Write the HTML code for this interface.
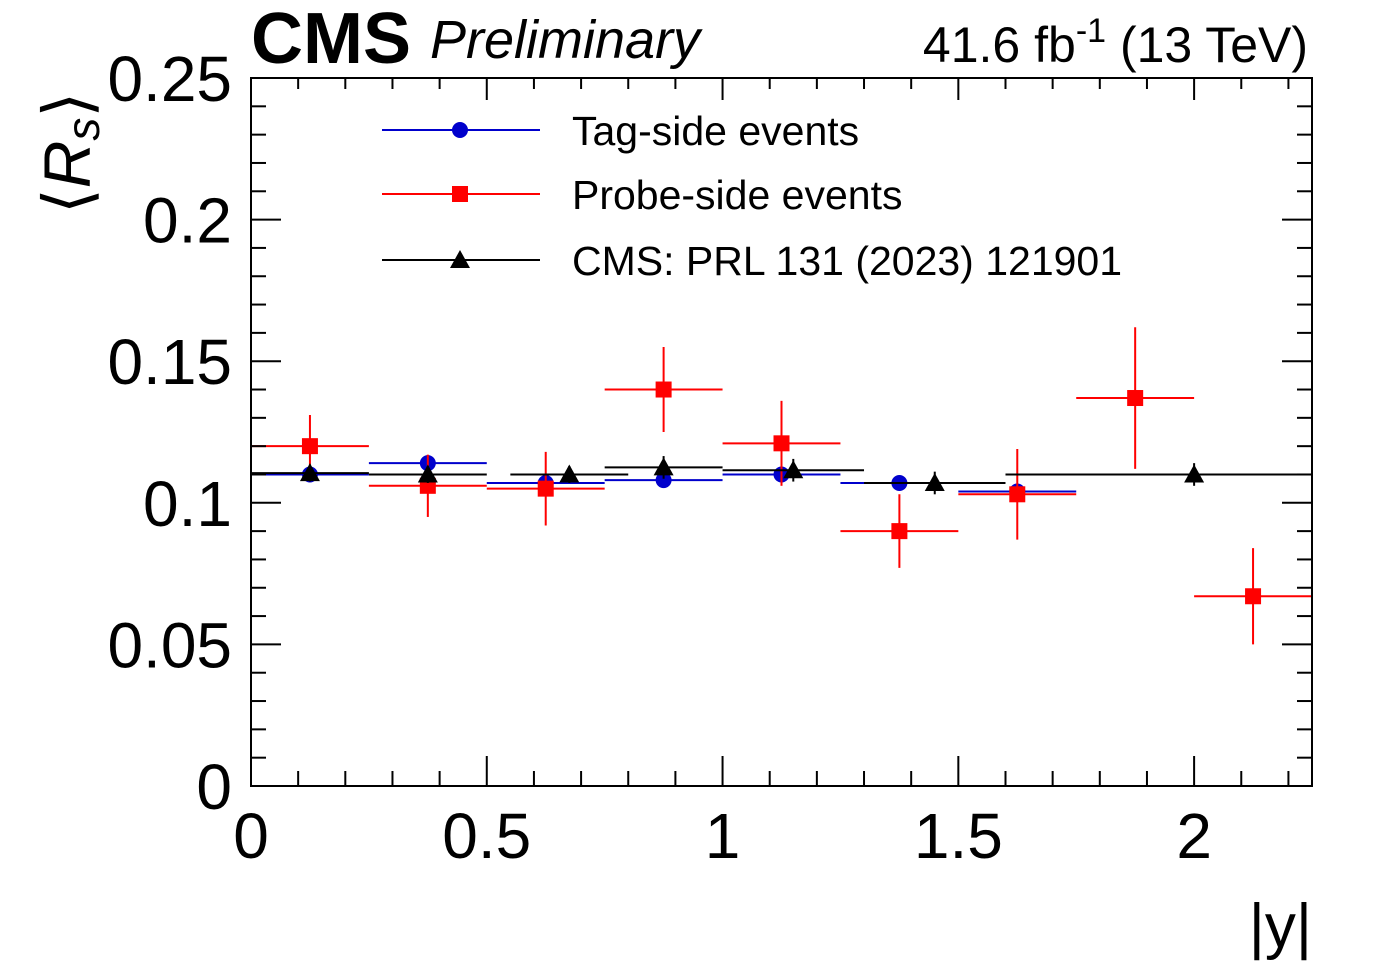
<!DOCTYPE html>
<html><head><meta charset="utf-8"><style>
body{margin:0;background:#fff}
svg text{font-family:"Liberation Sans",sans-serif}
</style></head><body>
<svg id="chart" width="1396" height="972" xmlns="http://www.w3.org/2000/svg">
<rect width="1396" height="972" fill="#fff"/>
<g id="marks"></g>
<g id="axes"></g>
<text x="251" y="63" font-size="72" font-weight="bold">CMS</text>
<text x="430" y="58" font-size="54" font-style="italic">Preliminary</text>
<text x="1308" y="62" font-size="50" text-anchor="end">41.6 fb<tspan dy="-20" font-size="34">-1</tspan><tspan dy="20"> (13 TeV)</tspan></text>
<text transform="translate(90,214) rotate(-90)" font-size="66">⟨<tspan font-style="italic">R</tspan><tspan font-style="italic" font-size="46" dy="9">s</tspan><tspan dy="-9">⟩</tspan></text>
<text x="1312" y="947" font-size="62" text-anchor="end">|y|</text>
<g>
<line x1="382" y1="130" x2="540" y2="130" stroke="#0000cc" stroke-width="2"/>
<circle cx="460" cy="130" r="8" fill="#0000cc"/>
<text x="572" y="145" font-size="41">Tag-side events</text>
<line x1="382" y1="194" x2="540" y2="194" stroke="#f00" stroke-width="2"/>
<rect x="452" y="186" width="16" height="16" fill="#f00"/>
<text x="572" y="209" font-size="41">Probe-side events</text>
<line x1="382" y1="260" x2="540" y2="260" stroke="#000" stroke-width="2"/>
<polygon points="460,250 470,268 450,268" fill="#000"/>
<text x="572" y="275" font-size="41">CMS: PRL 131 (2023) 121901</text>
</g>
</svg>
<script>
// Data
const tagLo = [0,0.25,0.5,0.75,1.0,1.25,1.5];
const tagHi = [0.25,0.5,0.75,1.0,1.25,1.5,1.75];
const tagX = [0.125,0.375,0.625,0.875,1.125,1.375,1.625];
const tagY = [0.110,0.114,0.107,0.108,0.110,0.107,0.104];
const tagErr = [0.001,0.001,0.001,0.001,0.001,0.001,0.001];
const probeLo = [0,0.25,0.5,0.75,1.0,1.25,1.5,1.75,2.0];
const probeHi = [0.25,0.5,0.75,1.0,1.25,1.5,1.75,2.0,2.25];
const probeX = [0.125,0.375,0.625,0.875,1.125,1.375,1.625,1.875,2.125];
const probeY = [0.120,0.106,0.105,0.140,0.121,0.090,0.103,0.137,0.067];
const probeErr = [0.011,0.011,0.013,0.015,0.015,0.013,0.016,0.025,0.017];
const prlLo = [0,0.25,0.55,0.75,1.0,1.3,1.6];
const prlHi = [0.25,0.5,0.8,1.0,1.3,1.6,2.4];
const prlX = [0.125,0.375,0.675,0.875,1.15,1.45,2.0];
const prlY = [0.1105,0.110,0.110,0.1125,0.1115,0.107,0.110];
const prlErr = [0.003,0.003,0.003,0.004,0.004,0.004,0.004];
const xTicks = [0,0.5,1,1.5,2];
const xTickLabels = ["0","0.5","1","1.5","2"];
const yTicks = [0,0.05,0.1,0.15,0.2,0.25];
const yTickLabels = ["0","0.05","0.1","0.15","0.2","0.25"];

const X0=251,X1=1312,Y0=786,Y1=78,XMAX=2.25,YMAX=0.25;
const sx=v=>X0+(Math.min(v,XMAX))/XMAX*(X1-X0);
const sy=v=>Y0-v/YMAX*(Y0-Y1);
const NS="http://www.w3.org/2000/svg";
function mk(tag,attrs,parent){const e=document.createElementNS(NS,tag);for(const k in attrs)e.setAttribute(k,attrs[k]);parent.appendChild(e);return e;}
const marks=document.getElementById('marks'),axes=document.getElementById('axes');

function series(lo,hi,xs,ys,errs,color,shape,name){
  for(let i=0;i<xs.length;i++){
    const g=mk('g',{},marks);
    
    
    mk('line',{x1:sx(lo[i]),x2:sx(hi[i]),y1:sy(ys[i]),y2:sy(ys[i]),stroke:color,'stroke-width':2},g);
    mk('line',{x1:sx(xs[i]),x2:sx(xs[i]),y1:sy(ys[i]-errs[i]),y2:sy(ys[i]+errs[i]),stroke:color,'stroke-width':2},g);
    const cx=sx(xs[i]),cy=sy(ys[i]);
    if(shape==='c')mk('circle',{cx:cx,cy:cy,r:8,fill:color},g);
    else if(shape==='s')mk('rect',{x:cx-8,y:cy-8,width:16,height:16,fill:color},g);
    else mk('polygon',{points:`${cx},${cy-10} ${cx+10},${cy+8} ${cx-10},${cy+8}`,fill:color},g);
  }
}
series(tagLo,tagHi,tagX,tagY,tagErr,'#0000cc','c','tag-side');
series(probeLo,probeHi,probeX,probeY,probeErr,'#ff0000','s','probe-side');
series(prlLo,prlHi,prlX,prlY,prlErr,'#000000','t','prl-reference');

const frame=mk('rect',{x:X0,y:Y1,width:X1-X0,height:Y0-Y1,fill:'none',stroke:'#000','stroke-width':2},axes);


for(let k=0;k<=22;k++){const v=k*0.1;const x=sx(v);const L=(k%5===0)?30:15;const T=(k%5===0)?22:11;
  mk('line',{x1:x,x2:x,y1:Y0,y2:Y0-L,stroke:'#000','stroke-width':2},axes);
  mk('line',{x1:x,x2:x,y1:Y1,y2:Y1+T,stroke:'#000','stroke-width':2},axes);}
for(let k=0;k<=25;k++){const y=sy(k*0.01);const L=(k%5===0)?30:15;
  mk('line',{x1:X0,x2:X0+L,y1:y,y2:y,stroke:'#000','stroke-width':2},axes);
  mk('line',{x1:X1,x2:X1-L,y1:y,y2:y,stroke:'#000','stroke-width':2},axes);}
xTicks.forEach((v,i)=>{const t=mk('text',{x:sx(v),y:858,'font-size':64,'text-anchor':'middle'},axes);t.textContent=xTickLabels[i];
  
  });
yTicks.forEach((v,i)=>{const t=mk('text',{x:232,y:sy(v)+23,'font-size':64,'text-anchor':'end'},axes);t.textContent=yTickLabels[i];
  
  });
</script>
</body></html>
